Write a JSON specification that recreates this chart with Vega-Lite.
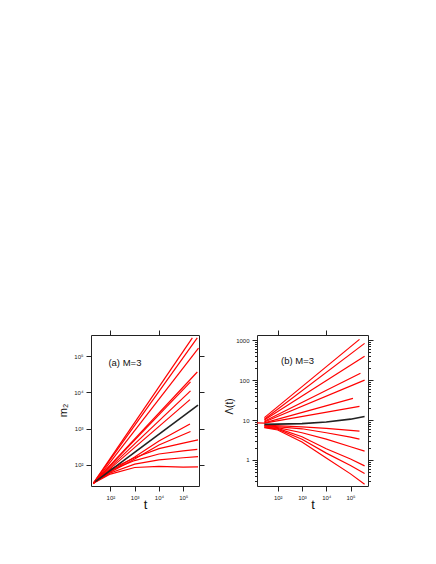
{
  "$schema": "https://vega.github.io/schema/vega-lite/v6.json",
  "padding": {"left": 56, "top": 329, "right": 5, "bottom": 5},
  "background": "white",
  "bounds": "flush",
  "spacing": 58,
  "config": {
    "view": {"stroke": "#222", "strokeWidth": 1},
    "axis": {"grid": false, "domain": false, "tickColor": "#222", "tickSize": 5, "tickWidth": 1,
      "labelFont": "Liberation Sans", "labelFontSize": 6, "labelColor": "#222", "labelPadding": 3,
      "labelOverlap": false, "labelFlush": false,
      "titleFont": "Liberation Sans", "titleFontWeight": "normal", "titleColor": "#111"}
  },
  "datasets": {
    "A": [
      {"id": "a1", "kind": "sim", "t": 20, "v": 31.6}, {"id": "a1", "kind": "sim", "t": 238000, "v": 316000},
      {"id": "a2", "kind": "sim", "t": 20, "v": 31.6}, {"id": "a2", "kind": "sim", "t": 380000, "v": 316000},
      {"id": "a3", "kind": "sim", "t": 20, "v": 30.2}, {"id": "a3", "kind": "sim", "t": 427000, "v": 166000},
      {"id": "a4", "kind": "sim", "t": 20, "v": 31.6}, {"id": "a4", "kind": "sim", "t": 380000, "v": 36300},
      {"id": "a5", "kind": "sim", "t": 20, "v": 31.6}, {"id": "a5", "kind": "sim", "t": 200000, "v": 19500},
      {"id": "a6", "kind": "sim", "t": 20, "v": 31.6}, {"id": "a6", "kind": "sim", "t": 200000, "v": 10960},
      {"id": "a7", "kind": "sim", "t": 20, "v": 31.6}, {"id": "a7", "kind": "sim", "t": 190000, "v": 6310},
      {"id": "a8", "kind": "sim", "t": 20, "v": 31.6}, {"id": "a8", "kind": "sim", "t": 100, "v": 66}, {"id": "a8", "kind": "sim", "t": 1000, "v": 166}, {"id": "a8", "kind": "sim", "t": 10000, "v": 457}, {"id": "a8", "kind": "sim", "t": 190000, "v": 1349},
      {"id": "a9", "kind": "sim", "t": 20, "v": 31.6}, {"id": "a9", "kind": "sim", "t": 100, "v": 63}, {"id": "a9", "kind": "sim", "t": 1000, "v": 145}, {"id": "a9", "kind": "sim", "t": 10000, "v": 355}, {"id": "a9", "kind": "sim", "t": 200000, "v": 832},
      {"id": "a10", "kind": "sim", "t": 20, "v": 31.6}, {"id": "a10", "kind": "sim", "t": 100, "v": 76}, {"id": "a10", "kind": "sim", "t": 1000, "v": 158}, {"id": "a10", "kind": "sim", "t": 10000, "v": 282}, {"id": "a10", "kind": "sim", "t": 100000, "v": 398}, {"id": "a10", "kind": "sim", "t": 407000, "v": 490},
      {"id": "a11", "kind": "sim", "t": 20, "v": 31.6}, {"id": "a11", "kind": "sim", "t": 100, "v": 71}, {"id": "a11", "kind": "sim", "t": 1000, "v": 132}, {"id": "a11", "kind": "sim", "t": 10000, "v": 200}, {"id": "a11", "kind": "sim", "t": 100000, "v": 245}, {"id": "a11", "kind": "sim", "t": 380000, "v": 269},
      {"id": "a12", "kind": "sim", "t": 20, "v": 31.6}, {"id": "a12", "kind": "sim", "t": 100, "v": 60}, {"id": "a12", "kind": "sim", "t": 1000, "v": 105}, {"id": "a12", "kind": "sim", "t": 10000, "v": 138}, {"id": "a12", "kind": "sim", "t": 100000, "v": 158}, {"id": "a12", "kind": "sim", "t": 407000, "v": 170},
      {"id": "a13", "kind": "sim", "t": 20, "v": 31.6}, {"id": "a13", "kind": "sim", "t": 100, "v": 56}, {"id": "a13", "kind": "sim", "t": 1000, "v": 85}, {"id": "a13", "kind": "sim", "t": 10000, "v": 91}, {"id": "a13", "kind": "sim", "t": 100000, "v": 87}, {"id": "a13", "kind": "sim", "t": 407000, "v": 89},
      {"id": "a0", "kind": "mean", "t": 24, "v": 34.7}, {"id": "a0", "kind": "mean", "t": 407000, "v": 4467}
    ],
    "B": [
      {"id": "b1", "kind": "sim", "t": 28.2, "v": 11.5}, {"id": "b1", "kind": "sim", "t": 234000, "v": 1047},
      {"id": "b2", "kind": "sim", "t": 28.2, "v": 10.5}, {"id": "b2", "kind": "sim", "t": 380000, "v": 832},
      {"id": "b3", "kind": "sim", "t": 28.2, "v": 10}, {"id": "b3", "kind": "sim", "t": 380000, "v": 398},
      {"id": "b4", "kind": "sim", "t": 28.2, "v": 9.33}, {"id": "b4", "kind": "sim", "t": 257000, "v": 148},
      {"id": "b5", "kind": "sim", "t": 28.2, "v": 8.91}, {"id": "b5", "kind": "sim", "t": 380000, "v": 100},
      {"id": "b6", "kind": "sim", "t": 28.2, "v": 8.51}, {"id": "b6", "kind": "sim", "t": 126000, "v": 34.7},
      {"id": "b7", "kind": "sim", "t": 14.1, "v": 8.5}, {"id": "b7", "kind": "sim", "t": 28.2, "v": 8.32}, {"id": "b7", "kind": "sim", "t": 234000, "v": 21.9},
      {"id": "b8", "kind": "sim", "t": 28.2, "v": 7.41}, {"id": "b8", "kind": "sim", "t": 1000, "v": 6.76}, {"id": "b8", "kind": "sim", "t": 10000, "v": 6.17}, {"id": "b8", "kind": "sim", "t": 100000, "v": 5.5}, {"id": "b8", "kind": "sim", "t": 234000, "v": 5.25},
      {"id": "b9", "kind": "sim", "t": 28.2, "v": 7.24}, {"id": "b9", "kind": "sim", "t": 1000, "v": 6.03}, {"id": "b9", "kind": "sim", "t": 10000, "v": 4.79}, {"id": "b9", "kind": "sim", "t": 100000, "v": 3.72}, {"id": "b9", "kind": "sim", "t": 234000, "v": 3.31},
      {"id": "b10", "kind": "sim", "t": 28.2, "v": 7.08}, {"id": "b10", "kind": "sim", "t": 100, "v": 6.46}, {"id": "b10", "kind": "sim", "t": 1000, "v": 4.79}, {"id": "b10", "kind": "sim", "t": 10000, "v": 3.31}, {"id": "b10", "kind": "sim", "t": 100000, "v": 2.14}, {"id": "b10", "kind": "sim", "t": 380000, "v": 1.66},
      {"id": "b11", "kind": "sim", "t": 28.2, "v": 6.76}, {"id": "b11", "kind": "sim", "t": 100, "v": 6.17}, {"id": "b11", "kind": "sim", "t": 1000, "v": 3.8}, {"id": "b11", "kind": "sim", "t": 10000, "v": 1.91}, {"id": "b11", "kind": "sim", "t": 100000, "v": 1.05}, {"id": "b11", "kind": "sim", "t": 380000, "v": 0.708},
      {"id": "b12", "kind": "sim", "t": 28.2, "v": 6.61}, {"id": "b12", "kind": "sim", "t": 100, "v": 5.89}, {"id": "b12", "kind": "sim", "t": 1000, "v": 3.31}, {"id": "b12", "kind": "sim", "t": 10000, "v": 1.48}, {"id": "b12", "kind": "sim", "t": 100000, "v": 0.724}, {"id": "b12", "kind": "sim", "t": 380000, "v": 0.457},
      {"id": "b13", "kind": "sim", "t": 28.2, "v": 6.46}, {"id": "b13", "kind": "sim", "t": 100, "v": 5.62}, {"id": "b13", "kind": "sim", "t": 1000, "v": 2.82}, {"id": "b13", "kind": "sim", "t": 10000, "v": 1.12}, {"id": "b13", "kind": "sim", "t": 100000, "v": 0.447}, {"id": "b13", "kind": "sim", "t": 380000, "v": 0.245},
      {"id": "b0", "kind": "mean", "t": 28.2, "v": 7.76}, {"id": "b0", "kind": "mean", "t": 1000, "v": 8.13}, {"id": "b0", "kind": "mean", "t": 10000, "v": 8.91}, {"id": "b0", "kind": "mean", "t": 100000, "v": 10.5}, {"id": "b0", "kind": "mean", "t": 380000, "v": 12.2}
    ]
  },
  "hconcat": [
    {
      "width": 108, "height": 151,
      "resolve": {"axis": {"x": "independent", "y": "independent"}},
      "layer": [
        {
          "data": {"name": "A"},
          "mark": {"type": "line"},
          "encoding": {
            "x": {"field": "t", "type": "quantitative", "scale": {"type": "log", "domain": [15.9, 447000]},
              "axis": {"orient": "bottom", "values": [100, 1000, 10000, 100000], "title": "t", "titleFontSize": 13, "titleY": 22, "titleBaseline": "alphabetic",
                "labelExpr": "datum.value==100?'10²':datum.value==1000?'10³':datum.value==10000?'10⁴':'10⁵'"}},
            "y": {"field": "v", "type": "quantitative", "scale": {"type": "log", "domain": [26.3, 380000]},
              "axis": {"orient": "left", "values": [100, 1000, 10000, 100000], "title": "m₂", "titleFontSize": 11, "titleX": -28, "titleY": 75, "titleAlign": "center", "titleBaseline": "middle",
                "labelExpr": "datum.value==100?'10²':datum.value==1000?'10³':datum.value==10000?'10⁴':'10⁵'"}},
            "detail": {"field": "id"},
            "color": {"field": "kind", "type": "nominal", "scale": {"domain": ["sim", "mean"], "range": ["#ff0000", "#222222"]}, "legend": null},
            "size": {"field": "kind", "type": "nominal", "scale": {"domain": ["sim", "mean"], "range": [1.2, 1.6]}, "legend": null},
            "order": {"field": "t", "type": "quantitative"}
          }
        },
        {
          "data": {"name": "A"},
          "mark": {"type": "point", "opacity": 0},
          "encoding": {
            "x": {"field": "t", "type": "quantitative", "scale": {"type": "log", "domain": [15.9, 447000]},
              "axis": {"orient": "top", "values": [100, 10000], "labels": false, "title": null}},
            "y": {"field": "v", "type": "quantitative", "scale": {"type": "log", "domain": [26.3, 380000]},
              "axis": {"orient": "right", "values": [100, 1000, 10000, 100000], "labels": false, "title": null}}
          }
        },
        {
          "data": {"values": [{"t": 83, "v": 65000, "label": "(a) M=3"}]},
          "mark": {"type": "text", "align": "left", "baseline": "middle", "font": "Liberation Sans", "fontSize": 9.5, "color": "#111"},
          "encoding": {
            "x": {"field": "t", "type": "quantitative", "scale": {"type": "log", "domain": [15.9, 447000]}, "axis": null},
            "y": {"field": "v", "type": "quantitative", "scale": {"type": "log", "domain": [26.3, 380000]}, "axis": null},
            "text": {"field": "label"}
          }
        }
      ]
    },
    {
      "width": 111, "height": 151,
      "resolve": {"axis": {"x": "independent", "y": "independent"}},
      "layer": [
        {
          "data": {"name": "B"},
          "mark": {"type": "line"},
          "encoding": {
            "x": {"field": "t", "type": "quantitative", "scale": {"type": "log", "domain": [14, 525000]},
              "axis": {"orient": "bottom", "values": [100, 1000, 10000, 100000], "title": "t", "titleFontSize": 13, "titleY": 22, "titleBaseline": "alphabetic",
                "labelExpr": "datum.value==100?'10²':datum.value==1000?'10³':datum.value==10000?'10⁴':'10⁵'"}},
            "y": {"field": "v", "type": "quantitative", "scale": {"type": "log", "domain": [0.222, 1350]},
              "axis": {"orient": "left", "values": [0.3, 0.4, 0.5, 0.6, 0.7, 0.8, 0.9, 1, 2, 3, 4, 5, 6, 7, 8, 9, 10, 20, 30, 40, 50, 60, 70, 80, 90, 100, 200, 300, 400, 500, 600, 700, 800, 900, 1000],
                "title": "Λ(t)", "titleFontSize": 10, "titleX": -28, "titleY": 71, "titleAlign": "center", "titleBaseline": "middle",
                "tickSize": {"condition": {"test": "datum.value==1||datum.value==10||datum.value==100||datum.value==1000", "value": 5}, "value": 2.5},
                "labelExpr": "(datum.value==1||datum.value==10||datum.value==100||datum.value==1000)?format(datum.value,'d'):''"}},
            "detail": {"field": "id"},
            "color": {"field": "kind", "type": "nominal", "scale": {"domain": ["sim", "mean"], "range": ["#ff0000", "#222222"]}, "legend": null},
            "size": {"field": "kind", "type": "nominal", "scale": {"domain": ["sim", "mean"], "range": [1.2, 1.6]}, "legend": null},
            "order": {"field": "t", "type": "quantitative"}
          }
        },
        {
          "data": {"name": "B"},
          "mark": {"type": "point", "opacity": 0},
          "encoding": {
            "x": {"field": "t", "type": "quantitative", "scale": {"type": "log", "domain": [14, 525000]},
              "axis": {"orient": "top", "values": [100, 10000], "labels": false, "title": null}},
            "y": {"field": "v", "type": "quantitative", "scale": {"type": "log", "domain": [0.222, 1350]},
              "axis": {"orient": "right", "values": [0.3, 0.4, 0.5, 0.6, 0.7, 0.8, 0.9, 1, 2, 3, 4, 5, 6, 7, 8, 9, 10, 20, 30, 40, 50, 60, 70, 80, 90, 100, 200, 300, 400, 500, 600, 700, 800, 900, 1000],
                "labels": false, "title": null,
                "tickSize": {"condition": {"test": "datum.value==1||datum.value==10||datum.value==100||datum.value==1000", "value": 5}, "value": 2.5}}}
          }
        },
        {
          "data": {"values": [{"t": 137, "v": 295, "label": "(b) M=3"}]},
          "mark": {"type": "text", "align": "left", "baseline": "middle", "font": "Liberation Sans", "fontSize": 9.5, "color": "#111"},
          "encoding": {
            "x": {"field": "t", "type": "quantitative", "scale": {"type": "log", "domain": [14, 525000]}, "axis": null},
            "y": {"field": "v", "type": "quantitative", "scale": {"type": "log", "domain": [0.222, 1350]}, "axis": null},
            "text": {"field": "label"}
          }
        }
      ]
    }
  ]
}
